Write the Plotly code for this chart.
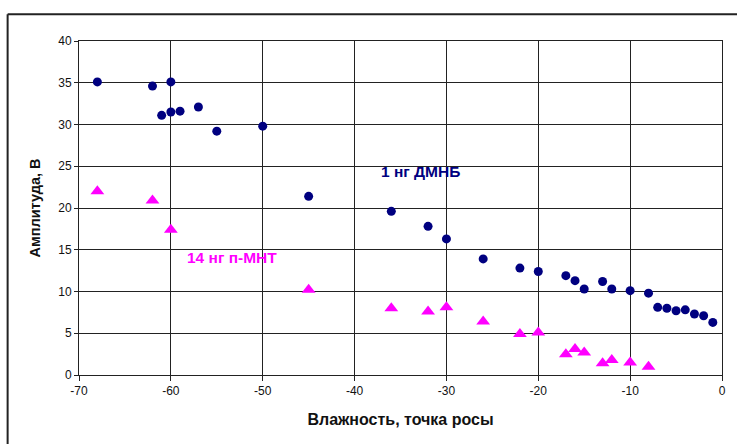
import plotly.graph_objects as go

# Dew point humidity (x) and signal amplitude (y) for two analytes
dmnb_x = [-68, -62, -61, -60, -60, -59, -57, -55, -50, -45, -36, -32, -30, -26,
          -22, -20, -17, -16, -15, -13, -12, -10, -8, -7, -6, -5, -4, -3, -2, -1]
dmnb_y = [35.1, 34.6, 31.1, 35.1, 31.5, 31.6, 32.1, 29.2, 29.8, 21.4, 19.6, 17.8, 16.3, 13.9,
          12.8, 12.4, 11.9, 11.3, 10.3, 11.2, 10.3, 10.1, 9.8, 8.1, 8.0, 7.7, 7.8, 7.3, 7.1, 6.3]

mnt_x = [-68, -62, -60, -45, -36, -32, -30, -26, -22, -20, -17, -16, -15, -13, -12, -10, -8]
mnt_y = [22.0, 20.9, 17.4, 10.2, 8.0, 7.6, 8.1, 6.4, 4.9, 5.1, 2.5, 3.1, 2.7, 1.4, 1.8, 1.5, 1.0]

x_ticks = [-70, -60, -50, -40, -30, -20, -10, 0]
y_ticks = [0, 5, 10, 15, 20, 25, 30, 35, 40]

NAVY = "#000080"
MAGENTA = "#FF00FF"
FONT = "Liberation Sans, Arial, sans-serif"

fig = go.Figure()
fig.add_trace(go.Scatter(
    x=dmnb_x, y=dmnb_y, mode="markers", name="1 нг ДМНБ",
    marker=dict(symbol="circle", size=9, color=NAVY, line=dict(width=0)),
    cliponaxis=False,
))
fig.add_trace(go.Scatter(
    x=mnt_x, y=mnt_y, mode="markers", name="14 нг п-МНТ",
    marker=dict(symbol="triangle-up", size=12, color=MAGENTA, line=dict(width=0)),
    cliponaxis=False,
))

# series captions
fig.add_annotation(x=-32.8, y=24.4, text="<b>1 нг ДМНБ</b>", showarrow=False,
                   font=dict(family=FONT, size=15.5, color=NAVY))
fig.add_annotation(x=-53.3, y=14.1, text="<b>14 нг п-МНТ</b>", showarrow=False,
                   font=dict(family=FONT, size=15.5, color=MAGENTA))

# outer chart frame (left and top edges)
frame = dict(color="#222222", width=2)
fig.add_shape(type="line", xref="paper", yref="paper",
              x0=-0.111, x1=-0.111, y0=1.0798, y1=-0.21, line=frame)
fig.add_shape(type="line", xref="paper", yref="paper",
              x0=-0.111, x1=1.03, y0=1.0798, y1=1.0798, line=frame)

fig.update_layout(
    width=737, height=444,
    margin=dict(l=79, r=15, t=41, b=69),
    paper_bgcolor="white", plot_bgcolor="white",
    showlegend=False,
    font=dict(family=FONT, size=12, color="#111111"),
)
fig.update_xaxes(
    range=[-70, 0], tickvals=x_ticks, ticktext=[str(v) for v in x_ticks],
    showgrid=True, gridcolor="#222222", gridwidth=1,
    showline=True, linecolor="#222222", linewidth=1, mirror=True,
    ticks="outside", ticklen=5, tickcolor="#222222", zeroline=False,
    title=dict(text="<b>Влажность, точка росы</b>", font=dict(size=16, color="#111111"),
               standoff=16),
)
fig.update_yaxes(
    range=[0, 40], tickvals=y_ticks, ticktext=[str(v) for v in y_ticks],
    showgrid=True, gridcolor="#222222", gridwidth=1,
    showline=True, linecolor="#222222", linewidth=1, mirror=True,
    ticks="outside", ticklen=4, tickcolor="#222222", zeroline=False,
    title=dict(text="<b>Амплитуда, В</b>", font=dict(size=14.5, color="#111111"),
               standoff=14),
)

fig.write_html("out.html")
